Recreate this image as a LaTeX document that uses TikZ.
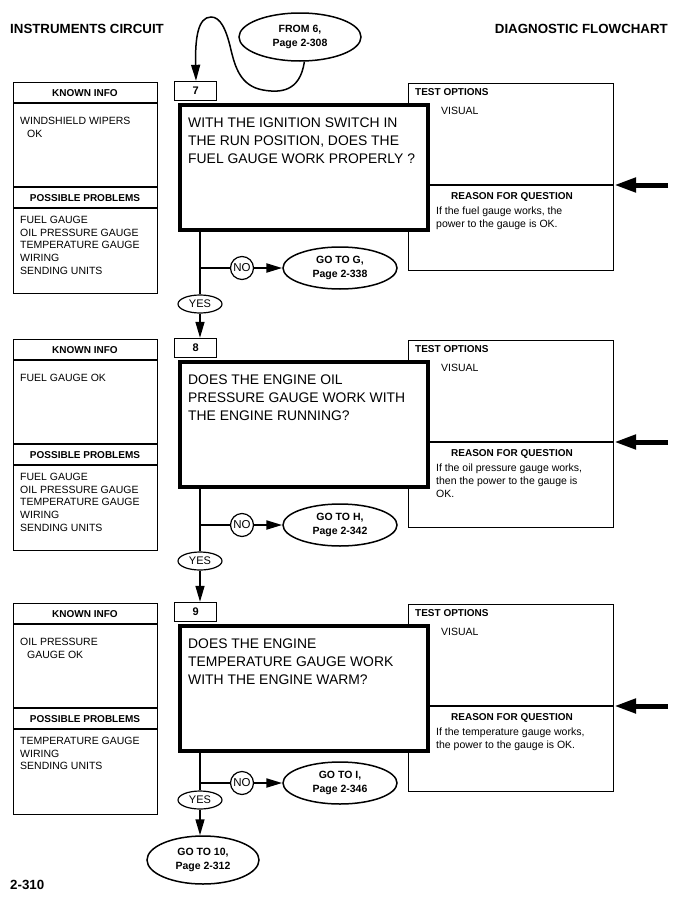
\documentclass[tikz,border=0pt]{standalone}
\usepackage{fontspec}
\setmainfont{Liberation Sans}
\usetikzlibrary{arrows.meta,shapes.geometric}
\tikzset{
  thinline/.style={line width=1.2pt},
  thinbox/.style={draw, line width=1.2pt, inner sep=0pt, anchor=north west},
  thickbox/.style={draw, line width=4pt, fill=white, inner sep=0pt, anchor=north west},
  numbox/.style={draw, line width=1.2pt, inner sep=0pt, anchor=south west, minimum width=42pt, minimum height=19pt, font=\fontsize{11}{13}\selectfont\bfseries},
  hdr/.style={inner sep=0pt, font=\fontsize{13.3}{16}\selectfont\bfseries},
  hdrsmall/.style={inner sep=0pt, font=\fontsize{10}{12}\selectfont\bfseries},
  body/.style={inner sep=0pt, anchor=north west, align=left, font=\fontsize{10.5}{12.7}\selectfont},
  qtext/.style={inner sep=0pt, anchor=north west, align=left, font=\fontsize{13.9}{18}\selectfont},
  conn/.style={line width=1.5pt},
  connarrow/.style={line width=1.5pt, -{Triangle[length=16pt,width=9pt]}},
  noarrow/.style={line width=2.2pt, -{Triangle[length=16pt,width=9pt]}},
  bigarrow/.style={line width=5pt, -{Triangle[length=22pt,width=14pt]}},
  goto/.style={ellipse, draw, line width=1.5pt, minimum width=114pt, minimum height=42pt, inner sep=0pt, align=center, font=\fontsize{10.5}{14}\selectfont\bfseries},
  noshape/.style={circle, draw, line width=1.2pt, minimum size=23pt, inner sep=0pt, font=\fontsize{11.5}{13}\selectfont},
  yesshape/.style={ellipse, draw, line width=1.2pt, minimum width=44pt, minimum height=18pt, inner sep=0pt, font=\fontsize{11}{13}\selectfont},
}
% #1 id, #2 number, #3 known, #4 problems, #5 question, #6 reason, #7 goto text, #8 NO y, #9 YES y
\newcommand\qblock[9]{%
  \node[thinbox, minimum width=144pt, minimum height=211pt] (known#1) at (13,82) {};
  \draw[thinline] (13,103) -- (157,103) (13,187) -- (157,187) (13,208) -- (157,208);
  \node[hdrsmall] (kih#1) at (85,93) {KNOWN INFO};
  \node[hdrsmall] (pph#1) at (85,198) {POSSIBLE PROBLEMS};
  \node[body] (kt#1) at (20,117) {#3};
  \node[body] (pt#1) at (20,216) {#4};
  \node[thinbox, minimum width=205pt, minimum height=187pt] (to#1) at (408,83) {};
  \node[hdrsmall, anchor=north west] (toh#1) at (415,88) {TEST OPTIONS};
  \node[body] (vis#1) at (441,107) {VISUAL};
  \node[thickbox, minimum width=248pt, minimum height=125pt] (q#1) at (178,103) {};
  \draw[thinline] (q#1.east |- 0,185) -- (to#1.east |- 0,185);
  \node[hdrsmall] (rh#1) at (512,197) {REASON FOR QUESTION};
  \node[body] (rt#1) at (436,207) {#6};
  \node[qtext] (qt#1) at (188,118) {#5};
  \node[numbox] (n#1) at (174,101) {#2};
  \coordinate (ra#1) at (668,185);
  \draw[bigarrow] (ra#1) -- (to#1.east |- ra#1);
  \node[yesshape] (yes#1) at (200,#9) {YES};
  \coordinate (br#1) at (200,#8);
  \node[noshape] (no#1) at (242,#8) {NO};
  \node[goto] (g#1) at (340,#8) {#7};
  \draw[conn] (q#1.south -| yes#1) -- (yes#1.north);
  \draw[conn] (br#1) -- (no#1.west);
  \draw[noarrow] (no#1.east) -- (g#1.west);
}
\begin{document}
\begin{tikzpicture}[x=1pt, y=-1pt]
  \fill[white] (0,0) rectangle (679,897);
  \useasboundingbox (0,0) rectangle (679,897);
  \node[hdr, anchor=base west] (title) at (10,33) {INSTRUMENTS CIRCUIT};
  \node[hdr, anchor=base east] (title2) at (668,33) {DIAGNOSTIC FLOWCHART};
  \node[hdr, anchor=base west] (pg) at (10,889) {2-310};
  \node[goto, minimum width=122pt, minimum height=48pt] (from6) at (300,37) {FROM 6,\\Page 2-308};

  \qblock{a}{7}{WINDSHIELD WIPERS\\\hspace*{7pt}OK}{FUEL GAUGE\\OIL PRESSURE GAUGE\\TEMPERATURE GAUGE\\WIRING\\SENDING UNITS}{WITH THE IGNITION SWITCH IN\\THE RUN POSITION, DOES THE\\FUEL GAUGE WORK PROPERLY ?}{If the fuel gauge works, the\\power to the gauge is OK.}{GO TO G,\\Page 2-338}{268}{304}
  \begin{scope}[yshift=-257pt]
  \qblock{b}{8}{FUEL GAUGE OK}{FUEL GAUGE\\OIL PRESSURE GAUGE\\TEMPERATURE GAUGE\\WIRING\\SENDING UNITS}{DOES THE ENGINE OIL\\PRESSURE GAUGE WORK WITH\\THE ENGINE RUNNING?}{If the oil pressure gauge works,\\then the power to the gauge is\\OK.}{GO TO H,\\Page 2-342}{268}{304}
  \end{scope}
  \begin{scope}[yshift=-521pt]
  \qblock{c}{9}{OIL PRESSURE\\\hspace*{7pt}GAUGE OK}{TEMPERATURE GAUGE\\WIRING\\SENDING UNITS}{DOES THE ENGINE\\TEMPERATURE GAUGE WORK\\WITH THE ENGINE WARM?}{If the temperature gauge works,\\the power to the gauge is OK.}{GO TO I,\\Page 2-346}{262}{279}
  \end{scope}
  \node[goto, minimum width=112pt, minimum height=48pt] (g10) at (203,860) {GO TO 10,\\Page 2-312};

  \draw[connarrow] (from6.-80) .. controls (300,92) and (280,93) .. (263,90)
     .. controls (240,86) and (235,66) .. (231,50)
     .. controls (226,28) and (220,17) .. (211,17)
     .. controls (198,17) and (195,38) .. (na.north -| 196,0);
  \draw[connarrow] (yesa.south) -- (yesa.south |- nb.north);
  \draw[connarrow] (yesb.south) -- (yesb.south |- nc.north);
  \draw[connarrow] (yesc.south) -- (yesc.south |- g10.north);
\end{tikzpicture}
\end{document}
